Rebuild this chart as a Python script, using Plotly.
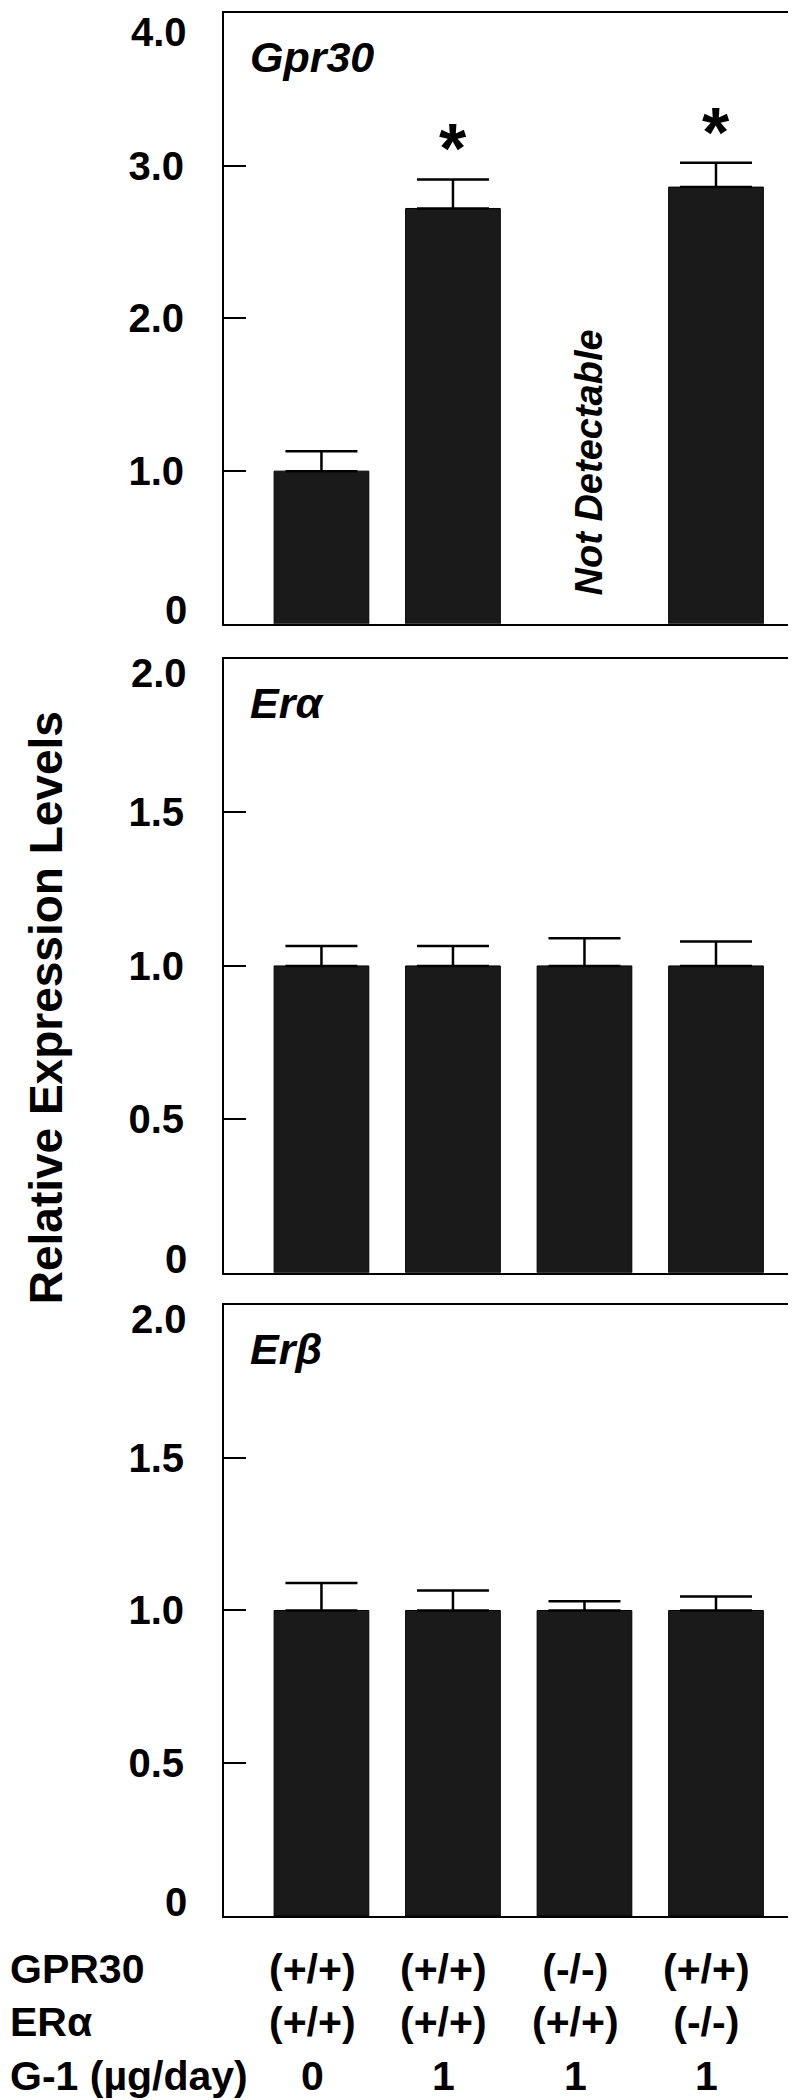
import plotly.graph_objects as go
from plotly.subplots import make_subplots

# groups (x positions 0..3)
groups = [0, 1, 2, 3]
gpr30_geno = ["(+/+)", "(+/+)", "(-/-)", "(+/+)"]
era_geno = ["(+/+)", "(+/+)", "(+/+)", "(-/-)"]
g1_dose = ["0", "1", "1", "1"]

# relative expression, mean and upper error
gpr30_mean = [1.0, 2.72, None, 2.86]
gpr30_err = [0.13, 0.19, None, 0.16]
gpr30_sig = [False, True, False, True]

era_mean = [1.0, 1.0, 1.0, 1.0]
era_err = [0.065, 0.065, 0.09, 0.08]

erb_mean = [1.0, 1.0, 1.0, 1.0]
erb_err = [0.09, 0.065, 0.03, 0.046]

panel_names = ["Gpr30", "Erα", "Erβ"]
panel_max = [4.0, 2.0, 2.0]
panel_ticks = [[0, 1, 2, 3, 4], [0, 0.5, 1.0, 1.5, 2.0], [0, 0.5, 1.0, 1.5, 2.0]]
panel_ticktext = [["0", "1.0", "2.0", "3.0", "4.0"],
                  ["0", "0.5", "1.0", "1.5", "2.0"],
                  ["0", "0.5", "1.0", "1.5", "2.0"]]

FONT = "Liberation Sans, Arial, sans-serif"
BAR = "#1a1a1a"
bold40 = dict(family=FONT, size=40, color="black", weight="bold")
bold41 = dict(family=FONT, size=41, color="black", weight="bold")

fig = make_subplots(rows=3, cols=1, shared_xaxes=False)

series = [(gpr30_mean, gpr30_err), (era_mean, era_err), (erb_mean, erb_err)]
for i, (m, e) in enumerate(series):
    fig.add_trace(go.Bar(
        x=groups, y=m, width=0.72, marker=dict(color=BAR, line=dict(color="black", width=1)),
        error_y=dict(type="data", array=e, arrayminus=[0] * len(e), symmetric=False,
                     color="black", thickness=2.5, width=36),
        showlegend=False), row=i + 1, col=1)

domains = [[0.679, 1.0], [0.338, 0.6605], [0.0, 0.3211]]
top_shift = [5, 10, 10]
for i in range(3):
    n = "" if i == 0 else str(i + 1)
    texts = list(panel_ticktext[i])
    texts[0] = ""
    texts[-1] = ""
    fig.layout["yaxis" + n].update(
        domain=domains[i], range=[0, panel_max[i]], tickvals=panel_ticks[i], ticktext=texts,
        ticks="inside", ticklen=22, tickwidth=2, tickcolor="black",
        showline=True, linewidth=2, linecolor="black", mirror=True, automargin=False,
        showgrid=False, zeroline=False, ticklabelstandoff=30, tickfont=bold40)
    fig.layout["xaxis" + n].update(
        range=[-0.741, 3.654], showline=True, linewidth=2, linecolor="black", mirror=True,
        showgrid=False, zeroline=False, ticks="", showticklabels=False, automargin=False)
    # end labels of the value axis, kept inside the frame
    yr = "y" + n
    fig.add_annotation(xref="paper", x=0, xshift=-35, xanchor="right",
                       yref=yr, y=0, yanchor="bottom", yshift=-10,
                       text=panel_ticktext[i][0], showarrow=False, font=bold40)
    fig.add_annotation(xref="paper", x=0, xshift=-35, xanchor="right",
                       yref=yr, y=panel_max[i], yanchor="top", yshift=top_shift[i],
                       text=panel_ticktext[i][-1], showarrow=False, font=bold40)
    # gene label
    fig.add_annotation(xref="x" + n + " domain", x=0, xshift=24, xanchor="left",
                       yref="y" + n + " domain", y=1, yshift=-18, yanchor="top",
                       text="<i>" + panel_names[i] + "</i>", showarrow=False,
                       font=dict(family=FONT, size=43, color="black", weight="bold"))

# significance stars
for x, m, e, s in zip(groups, gpr30_mean, gpr30_err, gpr30_sig):
    if s:
        fig.add_annotation(xref="x", x=x, yref="y", y=m + e, yanchor="bottom", yshift=-11,
                           text="*", showarrow=False,
                           font=dict(family=FONT, size=70, color="black", weight="bold"))

fig.add_annotation(xref="x", x=2, xshift=4, yref="y", y=1.06, textangle=-90,
                   xanchor="center", yanchor="middle",
                   text="<i>Not Detectable</i>", showarrow=False,
                   font=dict(family=FONT, size=38, color="black", weight="bold"))

# group table under the bottom panel
for g, a, b, c in zip(groups, gpr30_geno, era_geno, g1_dose):
    fig.add_annotation(xref="x3", x=g, xshift=-9, xanchor="center",
                       yref="paper", y=0, yshift=-28, yanchor="top",
                       text=a + "<br>" + b + "<br>" + c, showarrow=False, font=bold41)
fig.add_annotation(xref="paper", x=-0.3737, xshift=0, xanchor="left",
                   yref="paper", y=0, yshift=-28, yanchor="top", align="left",
                   showarrow=False, text="GPR30<br>ERα<br>G-1 (µg/day)", font=bold41)

fig.add_annotation(xref="paper", x=-0.3737, xshift=38, xanchor="center", yref="paper", y=0.477,
                   yanchor="middle", textangle=-90,
                   text="Relative Expression Levels", showarrow=False,
                   font=dict(family=FONT, size=46, color="black", weight="bold"))

fig.update_layout(width=796, height=2100, margin=dict(l=216, r=2, t=5, b=192),
                  plot_bgcolor="white", paper_bgcolor="white", bargap=0.28)

fig.write_html("out.html")
